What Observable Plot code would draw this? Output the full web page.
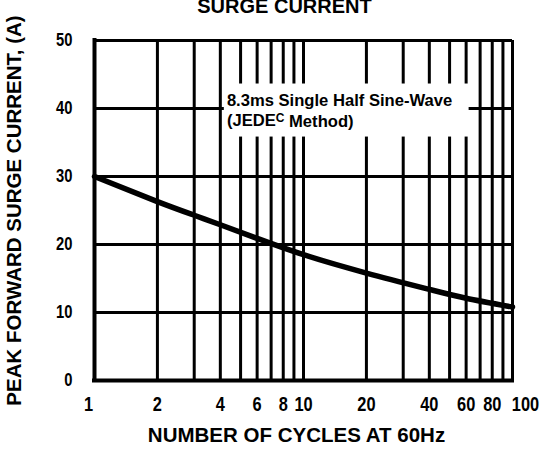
<!DOCTYPE html>
<html>
<head>
<meta charset="utf-8">
<script src="https://cdn.jsdelivr.net/npm/d3@7"></script>
<script src="https://cdn.jsdelivr.net/npm/@observablehq/plot@0.6"></script>
<style>
  html, body { margin: 0; padding: 0; background: #fff; }
  #chart { width: 547px; height: 450px; overflow: hidden; }
</style>
</head>
<body>
<div id="chart"></div>
<script>
// ---- data ----
const cycles  = [1, 2, 3, 4, 6, 10, 20, 40, 60, 100];
const current = [30, 26.3, 24.3, 22.9, 20.9, 18.5, 15.8, 13.4, 12.1, 10.8];

const xTickLabels = [1, 2, 4, 6, 8, 10, 20, 40, 60, 80, 100];
const xGrid  = [1, 2, 3, 4, 5, 6, 7, 8, 9, 10, 20, 30, 40, 50, 60, 70, 80, 90, 100];
const yTicks = [0, 10, 20, 30, 40, 50];

const title  = "SURGE CURRENT";
const xLabel = "NUMBER OF CYCLES AT 60Hz";
const yLabel = "PEAK FORWARD SURGE CURRENT, (A)";
const noteLines = ["8.3ms Single Half Sine-Wave", "(JEDEC Method)"];
const noteY = [41.2, 38.25];
const noteX = 4.3;
const noteBox = [{x1: 4.18, x2: 62, y1: 35.8, y2: 43.6}];

const data = cycles.map((c, i) => ({c, v: current[i]}));

const font = "'Liberation Sans', Arial, Helvetica, sans-serif";

const chart = Plot.plot({
  width: 547,
  height: 450,
  marginLeft: 94,
  marginRight: 35,
  marginTop: 40,
  marginBottom: 70,
  style: {fontFamily: font, fontWeight: "bold", background: "#fff", color: "#000"},
  x: {type: "log", domain: [1, 100], axis: null},
  y: {domain: [0, 50], axis: null},
  marks: [
    Plot.ruleX(xGrid, {stroke: "#000", strokeWidth: 3}),
    Plot.ruleY(yTicks, {stroke: "#000", strokeWidth: 3}),
    Plot.ruleX([1], {stroke: "#000", strokeWidth: 4, strokeLinecap: "square"}),
    Plot.ruleY([0], {stroke: "#000", strokeWidth: 4, strokeLinecap: "square"}),
    Plot.rect(noteBox, {x1: "x1", x2: "x2", y1: "y1", y2: "y2", fill: "#fff"}),
    Plot.text(noteLines, {x: () => noteX, y: (d, i) => noteY[i], text: d => d,
      textAnchor: "start", fontSize: 16.6, fontWeight: "bold", fill: "#000"}),
    Plot.line(data, {x: "c", y: "v", stroke: "#000", strokeWidth: 5.5, curve: "natural"}),
    // x tick labels
    Plot.text(xTickLabels, {x: d => d, frameAnchor: "bottom", lineAnchor: "middle", dy: 24,
      text: d => String(d), fontSize: 20, fontWeight: "bold", fill: "#000",
      className: "xtick"}),
    // y tick labels
    Plot.text(yTicks, {y: d => d, frameAnchor: "left", textAnchor: "end", lineAnchor: "middle",
      dx: -22, text: d => String(d), fontSize: 18, fontWeight: "bold", fill: "#000",
      className: "ytick"}),
    Plot.text([title], {frameAnchor: "top", lineAnchor: "bottom", dx: -19, dy: -28,
      fontSize: 20, fontWeight: "bold", fill: "#000"}),
    Plot.text([xLabel], {frameAnchor: "bottom", lineAnchor: "middle", dx: -7, dy: 55,
      fontSize: 20.5, fontWeight: "bold", fill: "#000"}),
    Plot.text([yLabel], {frameAnchor: "left", textAnchor: "middle", lineAnchor: "middle",
      rotate: -90, dx: -80, fontSize: 20.5, fontWeight: "bold", fill: "#000"})
  ]
});

// condense the tick numerals (the reference uses a narrow bold face)
function condense(sel, extraDx) {
  d3.select(chart).selectAll(sel + " text").each(function() {
    const el = this;
    let tr = el.getAttribute("transform");
    if (!tr) {
      const x = el.getAttribute("x") || 0, y = el.getAttribute("y") || 0;
      el.removeAttribute("x"); el.removeAttribute("y");
      tr = `translate(${x},${y})`;
    }
    const shift = extraDx(el.textContent);
    el.setAttribute("transform", `${tr} translate(${shift},0) scale(0.82,1)`);
  });
}
condense(".xtick", s => s === "1" ? -6 : s === "100" ? 13 : 0);
condense(".ytick", () => 0);

d3.select(chart).selectAll("text").each(function() {
  if (this.textContent === "(JEDEC Method)") {
    const t = d3.select(this);
    t.text(null);
    t.append("tspan").text("(JEDE");
    t.append("tspan").attr("dy", "-0.35em").attr("font-size", "12").text("C");
    t.append("tspan").attr("dy", "0.35em").text(" Method)");
  }
});

document.getElementById("chart").appendChild(chart);
</script>
</body>
</html>
